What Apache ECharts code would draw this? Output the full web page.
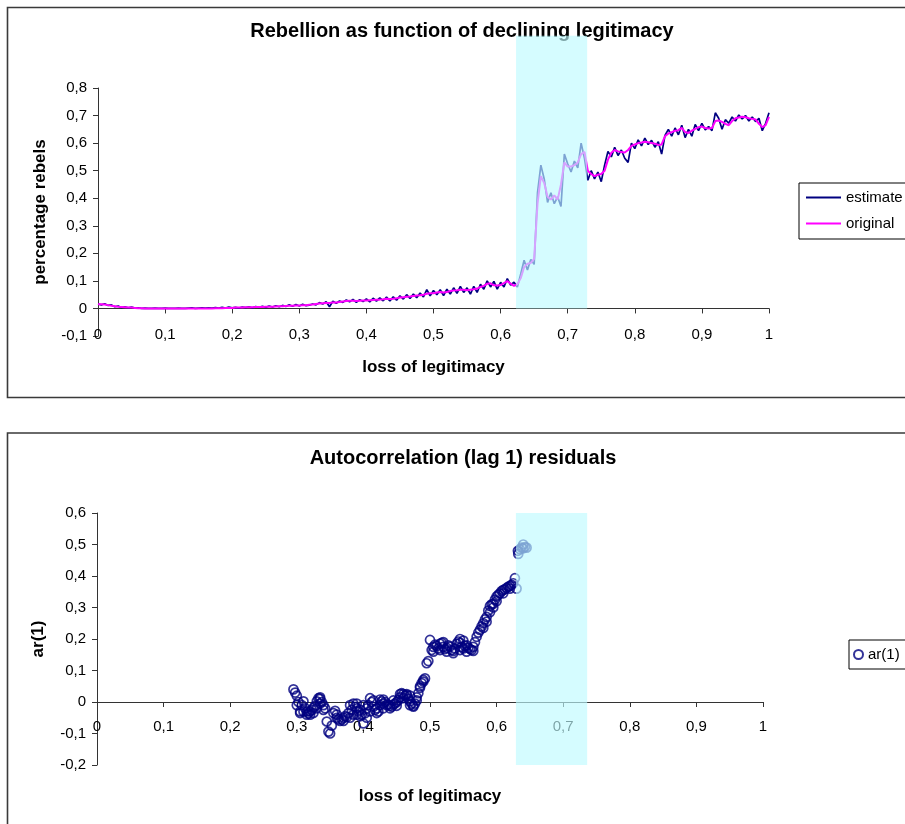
<!DOCTYPE html>
<html><head><meta charset="utf-8">
<script src="https://cdn.jsdelivr.net/npm/echarts@6/dist/echarts.min.js"></script>
<style>html,body{margin:0;padding:0;background:#fff}#c{width:905px;height:824px}</style>
</head><body><div id="c"></div>
<script>
// ---- data ----
const lossX = [
0,0.005,0.01,0.015,0.02,0.025,0.03,0.035,0.04,0.045,0.05,0.055,0.06,0.065,0.07,0.075,0.08,0.085,0.09,0.095,
0.1,0.105,0.11,0.115,0.12,0.125,0.13,0.135,0.14,0.145,0.15,0.155,0.16,0.165,0.17,0.175,0.18,0.185,0.19,0.195,
0.2,0.205,0.21,0.215,0.22,0.225,0.23,0.235,0.24,0.245,0.25,0.255,0.26,0.265,0.27,0.275,0.28,0.285,0.29,0.295,
0.3,0.305,0.31,0.315,0.32,0.325,0.33,0.335,0.34,0.345,0.35,0.355,0.36,0.365,0.37,0.375,0.38,0.385,0.39,0.395,
0.4,0.405,0.41,0.415,0.42,0.425,0.43,0.435,0.44,0.445,0.45,0.455,0.46,0.465,0.47,0.475,0.48,0.485,0.49,0.495,
0.5,0.505,0.51,0.515,0.52,0.525,0.53,0.535,0.54,0.545,0.55,0.555,0.56,0.565,0.57,0.575,0.58,0.585,0.59,0.595,
0.6,0.605,0.61,0.615,0.62,0.625,0.63,0.635,0.64,0.645,0.65,0.655,0.66,0.665,0.67,0.675,0.68,0.685,0.69,0.695,
0.7,0.705,0.71,0.715,0.72,0.725,0.73,0.735,0.74,0.745,0.75,0.755,0.76,0.765,0.77,0.775,0.78,0.785,0.79,0.795,
0.8,0.805,0.81,0.815,0.82,0.825,0.83,0.835,0.84,0.845,0.85,0.855,0.86,0.865,0.87,0.875,0.88,0.885,0.89,0.895,
0.9,0.905,0.91,0.915,0.92,0.925,0.93,0.935,0.94,0.945,0.95,0.955,0.96,0.965,0.97,0.975,0.98,0.985,0.99,0.995,
1];
const estimate = [
0.016,0.013,0.017,0.011,0.013,0.006,0.009,0.003,0.006,0.002,0.005,0.001,0.002,0,0.001,0,0,0.001,0,0,
0.001,0,0,0,0.001,0,0,0.001,0.002,0,0.001,0.002,0.001,0.002,0.001,0.003,0.001,0.004,0.001,0.005,
0.002,0.004,0.001,0.005,0.003,0.006,0.002,0.007,0.004,0.008,0.004,0.009,0.005,0.010,0.006,0.011,0.007,0.013,0.008,0.014,
0.009,0.015,0.010,0.012,0.016,0.013,0.021,0.016,0.024,0.006,0.026,0.019,0.027,0.022,0.031,0.024,0.033,0.022,0.032,0.025,
0.035,0.024,0.037,0.027,0.038,0.028,0.041,0.027,0.042,0.030,0.046,0.034,0.050,0.036,0.052,0.039,0.056,0.042,0.068,0.046,
0.065,0.050,0.068,0.047,0.070,0.052,0.075,0.055,0.080,0.058,0.075,0.052,0.080,0.058,0.088,0.070,0.100,0.078,0.098,0.070,
0.095,0.078,0.108,0.085,0.095,0.078,0.125,0.175,0.140,0.178,0.160,0.420,0.520,0.470,0.385,0.420,0.380,0.405,0.370,0.560,
0.525,0.495,0.535,0.510,0.600,0.545,0.465,0.500,0.470,0.495,0.460,0.520,0.570,0.550,0.585,0.555,0.575,0.545,0.530,0.600,
0.580,0.612,0.590,0.618,0.595,0.610,0.585,0.605,0.560,0.628,0.650,0.625,0.655,0.630,0.665,0.620,0.650,0.625,0.668,0.645,
0.672,0.648,0.660,0.645,0.710,0.690,0.650,0.685,0.672,0.695,0.680,0.702,0.688,0.700,0.680,0.695,0.678,0.690,0.645,0.672,
0.710];
const original = [
0.015,0.015,0.014,0.012,0.010,0.008,0.006,0.005,0.004,0.003,0.003,0.002,0.001,0.001,0,0,0,0,0,0,
0,0,0,0,0,0,0,0,0,0,0,0,0,0,0,0.001,0.001,0.001,0.002,0.002,
0.002,0.003,0.003,0.003,0.004,0.004,0.004,0.005,0.005,0.005,0.006,0.006,0.006,0.007,0.008,0.008,0.009,0.010,0.010,0.011,
0.011,0.012,0.012,0.013,0.014,0.016,0.018,0.019,0.020,0.020,0.022,0.022,0.023,0.025,0.027,0.028,0.028,0.027,0.028,0.029,
0.029,0.030,0.031,0.032,0.032,0.033,0.035,0.034,0.035,0.037,0.040,0.041,0.042,0.043,0.045,0.047,0.048,0.050,0.053,0.055,
0.055,0.058,0.060,0.058,0.060,0.063,0.065,0.066,0.068,0.068,0.066,0.068,0.070,0.072,0.078,0.082,0.090,0.091,0.084,0.083,
0.085,0.092,0.099,0.090,0.082,0.088,0.110,0.150,0.162,0.165,0.180,0.380,0.480,0.455,0.405,0.395,0.410,0.395,0.450,0.530,
0.515,0.515,0.520,0.530,0.560,0.568,0.500,0.488,0.480,0.485,0.488,0.500,0.540,0.565,0.575,0.570,0.568,0.566,0.575,0.590,
0.595,0.600,0.602,0.605,0.603,0.600,0.598,0.593,0.595,0.625,0.635,0.640,0.645,0.647,0.655,0.640,0.637,0.645,0.652,0.658,
0.660,0.655,0.653,0.655,0.680,0.682,0.677,0.670,0.665,0.680,0.690,0.693,0.696,0.694,0.690,0.688,0.686,0.670,0.658,0.665,
0.695];
// ar(1) residual points: main trace
const arX = [
0.295,0.2975,0.3,0.3025,0.305,0.3075,0.31,0.3125,0.315,0.3175,
0.32,0.3225,0.325,0.3275,0.33,0.3325,0.335,0.3375,0.34,0.3425,
0.345,0.3475,0.35,0.3525,0.355,0.3575,0.36,0.3625,0.365,0.3675,
0.37,0.3725,0.375,0.3775,0.38,0.3825,0.385,0.3875,0.39,0.3925,
0.395,0.3975,0.4,0.4025,0.405,0.4075,0.41,0.4125,0.415,0.4175,
0.42,0.4225,0.425,0.4275,0.43,0.4325,0.435,0.4375,0.44,0.4425,
0.445,0.4475,0.45,0.4525,0.455,0.4575,0.46,0.4625,0.465,0.4675,
0.47,0.4725,0.475,0.4775,0.48,0.4825,0.485,0.4875,0.49,0.4925,
0.495,0.4975,0.5,0.5025,0.505,0.5075,0.51,0.5125,0.515,0.5175,
0.52,0.5225,0.525,0.5275,0.53,0.5325,0.535,0.5375,0.54,0.5425,
0.545,0.5475,0.55,0.5525,0.555,0.5575,0.56,0.5625,0.565,0.5675,
0.57,0.5725,0.575,0.5775,0.58,0.5825,0.585,0.5875,0.59,0.5925,
0.595,0.5975,0.6,0.6025,0.605,0.6075,0.61,0.6125,0.615,0.6175,
0.62,0.6225,0.625,0.6275,0.63,0.6325,0.635,0.6375,0.64,0.6425,
0.645];
const arY = [
0.040,0.030,0.020,0.000,-0.030,-0.010,0.002,-0.020,-0.030,-0.036,
-0.030,-0.025,-0.018,-0.012,0.002,0.012,0.010,0.000,-0.010,-0.020,
-0.062,-0.094,-0.100,-0.075,-0.035,-0.028,-0.040,-0.055,-0.060,-0.055,
-0.050,-0.045,-0.048,-0.035,-0.010,-0.025,-0.005,-0.015,-0.020,-0.030,
-0.025,-0.040,-0.068,-0.036,-0.020,-0.010,0.012,0.000,-0.015,-0.025,
-0.020,-0.030,-0.010,0.002,-0.005,0.000,-0.010,-0.008,-0.012,-0.015,
-0.008,-0.005,0.000,0.006,0.015,0.028,0.025,0.020,0.022,0.010,
0.002,-0.005,-0.012,-0.005,0.015,0.028,0.045,0.060,0.070,0.075,
0.123,0.130,0.197,0.165,0.175,0.182,0.178,0.170,0.185,0.188,
0.175,0.168,0.172,0.180,0.176,0.165,0.162,0.170,0.185,0.192,
0.188,0.175,0.170,0.178,0.180,0.172,0.168,0.165,0.175,0.190,
0.207,0.220,0.229,0.240,0.250,0.262,0.270,0.290,0.305,0.310,
0.312,0.325,0.335,0.340,0.345,0.352,0.356,0.358,0.362,0.366,
0.368,0.372,0.377,0.393,0.360,0.470,0.485,0.490,0.488,0.492,
0.490];
// ar(1) residual points: extra points on the band's edges
const arXedge = [
0.3,0.305,0.31,0.315,0.32,0.325,0.33,0.335,0.34,0.36,0.37,0.38,0.385,0.39,0.395,0.405,0.41,0.42,0.43,0.44,0.45,0.46,0.47,0.475,0.48,
0.335,0.39,0.4,0.415,0.425,0.43,0.445,0.455,0.465,0.47,0.485,0.49,
0.505,0.515,0.525,0.535,0.545,0.555,0.565,0.52,0.545,0.55,
0.58,0.585,0.59,0.595,0.6,0.61,0.62,0.632,0.64];
const arYedge = [
-0.010,-0.035,-0.030,-0.040,-0.040,-0.035,-0.020,-0.005,-0.025,-0.050,-0.060,-0.050,-0.040,-0.040,-0.045,-0.050,-0.030,-0.035,-0.020,-0.020,-0.012,0.012,-0.010,-0.015,0.005,
0.015,-0.005,-0.010,0.005,0.008,0.008,0.005,0.025,0.025,0.020,0.050,0.065,
0.160,0.165,0.160,0.155,0.165,0.160,0.162,0.190,0.200,0.195,
0.235,0.255,0.285,0.300,0.320,0.345,0.360,0.480,0.500];
const shadeTop = [0.623, 0, 0.729, 0.99];       // x0, y0, x1, y1
const shadeBottom = [0.629, -0.2, 0.736, 0.6];  // x0, y0, x1, y1

// ---- styling ----
const FONT = '"Liberation Sans", Arial, sans-serif';
const fmt = v => String(Math.round(v * 10) / 10).replace('.', ',');
const axisCol = '#333';
const shadeCol = 'rgba(190,250,255,0.65)';

function xAxisCfg(gridIndex, labelMargin, nameGap) {
  return {
    type: 'value', gridIndex, min: 0, max: 1, interval: 0.1,
    name: 'loss of legitimacy', nameLocation: 'middle', nameGap,
    nameTextStyle: { fontFamily: FONT, fontSize: 17, fontWeight: 'bold', color: '#000' },
    axisLine: { onZero: true, lineStyle: { color: axisCol, width: 1 } },
    axisTick: { show: true, length: 5, lineStyle: { color: axisCol } },
    axisLabel: { formatter: fmt, fontFamily: FONT, fontSize: 15, color: '#000', margin: labelMargin, showMinLabel: true, showMaxLabel: true, hideOverlap: false },
    splitLine: { show: false }
  };
}
function yAxisCfg(gridIndex, min, max, name, nameGap) {
  return {
    type: 'value', gridIndex, min, max, interval: 0.1,
    name, nameLocation: 'middle', nameGap,
    nameTextStyle: { fontFamily: FONT, fontSize: 17, fontWeight: 'bold', color: '#000' },
    axisLine: { show: true, onZero: false, lineStyle: { color: axisCol, width: 1 } },
    axisTick: { show: true, length: 5, lineStyle: { color: axisCol } },
    axisLabel: { formatter: fmt, fontFamily: FONT, fontSize: 15, color: '#000', margin: 11 },
    splitLine: { show: false }
  };
}
function shadeSeries(xi, box) {
  return {
    type: 'custom', xAxisIndex: xi, yAxisIndex: xi, z: 10, clip: false, silent: true,
    data: [box], encode: { x: [0, 2], y: [1, 3] },
    renderItem: (params, api) => {
      const p0 = api.coord([api.value(0), api.value(1)]);
      const p1 = api.coord([api.value(2), api.value(3)]);
      return { type: 'rect', shape: { x: p0[0], y: p1[1], width: p1[0] - p0[0], height: p0[1] - p1[1] },
               style: { fill: shadeCol } };
    }
  };
}

const arPoints = arX.map((x, i) => [x, arY[i]]).concat(arXedge.map((x, i) => [x, arYedge[i]]));

const chart = echarts.init(document.getElementById('c'), null, { renderer: 'canvas' });
chart.setOption({
  backgroundColor: '#fff',
  animation: false,
  title: [
    { text: 'Rebellion as function of declining legitimacy', left: 462, top: 21, textAlign: 'center', padding: 0,
      textStyle: { fontFamily: FONT, fontSize: 20, fontWeight: 'bold', color: '#000' } },
    { text: 'Autocorrelation (lag 1) residuals', left: 463, top: 448, textAlign: 'center', padding: 0,
      textStyle: { fontFamily: FONT, fontSize: 20, fontWeight: 'bold', color: '#000' } }
  ],
  graphic: [
    { type: 'rect', shape: { x: 7.5, y: 7.5, width: 920, height: 390 }, style: { fill: 'none', stroke: '#3a3a3a', lineWidth: 1.6 }, z: -1 },
    { type: 'rect', shape: { x: 7.5, y: 433, width: 920, height: 420 }, style: { fill: 'none', stroke: '#3a3a3a', lineWidth: 1.6 }, z: -1 }
  ],
  legend: [
    { data: [{ name: 'estimate', icon: 'rect' }, { name: 'original', icon: 'rect' }], orient: 'vertical', left: 799, top: 183,
      padding: [7, 20, 8, 7], itemGap: 11, itemWidth: 35, itemHeight: 2,
      borderColor: '#000', borderWidth: 1, textStyle: { fontFamily: FONT, fontSize: 15, color: '#000' } },
    { data: ['ar(1)'], orient: 'vertical', left: 849, top: 640,
      padding: [7, 20, 7, 4], itemWidth: 9, itemHeight: 9, itemGap: 5,
      borderColor: '#000', borderWidth: 1, textStyle: { fontFamily: FONT, fontSize: 15, color: '#000' } }
  ],
  grid: [
    { left: 98, right: 136, top: 88, bottom: 488, outerBoundsMode: 'none', containLabel: false },
    { left: 97, right: 142, top: 513, bottom: 59, outerBoundsMode: 'none', containLabel: false }
  ],
  xAxis: [ xAxisCfg(0, -9, 23), xAxisCfg(1, -46, 23) ],
  yAxis: [ yAxisCfg(0, -0.1, 0.8, 'percentage rebels', 49), yAxisCfg(1, -0.2, 0.6, 'ar(1)', 50) ],
  series: [
    { name: 'estimate', type: 'line', xAxisIndex: 0, yAxisIndex: 0, symbol: 'none',
      lineStyle: { color: '#000080', width: 1.7 }, itemStyle: { color: '#000080' }, z: 2,
      data: lossX.map((x, i) => [x, estimate[i]]) },
    { name: 'original', type: 'line', xAxisIndex: 0, yAxisIndex: 0, symbol: 'none',
      lineStyle: { color: '#ff00ff', width: 2 }, itemStyle: { color: '#ff00ff' }, z: 3,
      data: lossX.map((x, i) => [x, original[i]]) },
    shadeSeries(0, shadeTop),
    { name: 'ar(1)', type: 'scatter', xAxisIndex: 1, yAxisIndex: 1, symbol: 'circle', symbolSize: 9,
      itemStyle: { color: 'rgba(255,255,255,0)', borderColor: '#000080', borderWidth: 1.7 }, z: 2,
      data: arPoints },
    shadeSeries(1, shadeBottom)
  ]
});
</script></body></html>
